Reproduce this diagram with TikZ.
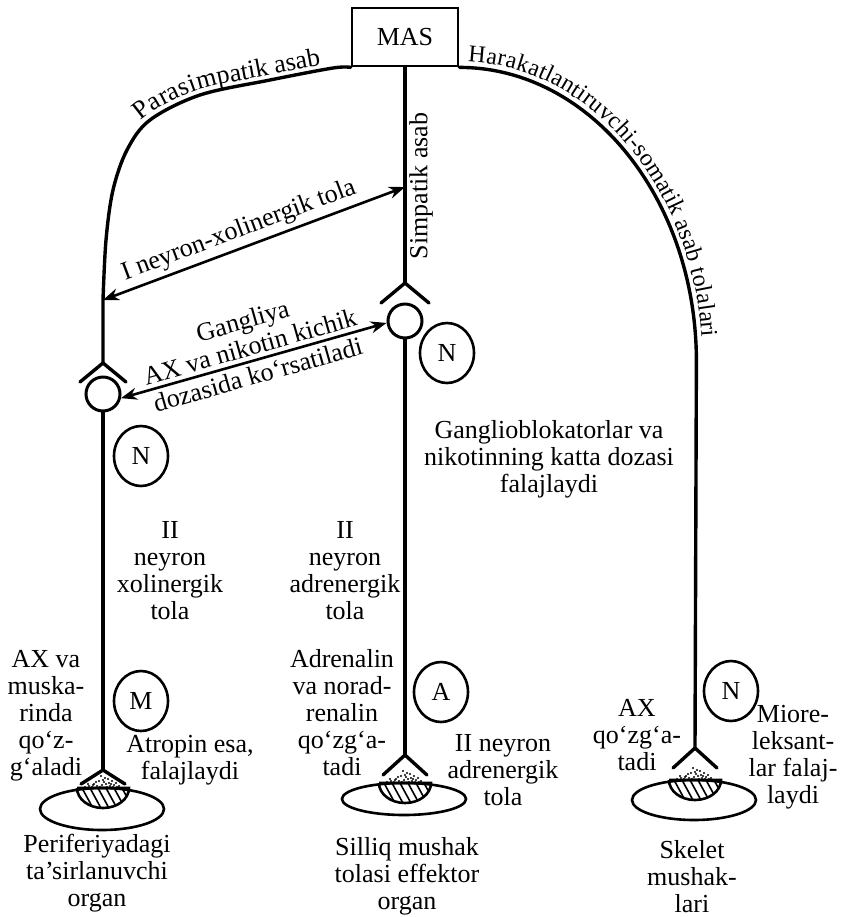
\documentclass[tikz,border=0pt]{standalone}
\usepackage{fontspec}
\setmainfont{Liberation Serif}
\usetikzlibrary{arrows.meta,shapes.geometric,decorations.text}

% one unit = one pixel of an 850 x 917 sheet, y running downwards
\tikzset{
  nerve/.style={line width=1.7pt, line cap=round, line join=miter},
  organline/.style={line width=1.3pt},
  lbl/.style={font=\fontsize{13}{13.5}\selectfont, align=center, inner sep=0pt},
  receptor/.style={draw, line width=1.3pt, ellipse, minimum width=27pt,
    minimum height=30pt, inner sep=0pt, font=\fontsize{13}{13.5}\selectfont},
  ganglion/.style={draw, line width=1.5pt, circle, minimum size=17pt, inner sep=0pt},
  biarrow/.style={line width=1.3pt,
    {Stealth[length=8pt,width=6pt]}-{Stealth[length=8pt,width=6pt]}},
  centrebox/.style={draw, line width=1.4pt, minimum width=53pt, minimum height=29pt,
    inner sep=0pt, font=\fontsize{13}{13.5}\selectfont}
}

% nerve ending on an effector organ:
% #1 apex x, #2 apex y, #3 drop of the cap, #4 organ centre y, #5 organ y radius
\newcommand{\synapsedraw}[5]{%
  \draw[nerve] (#1-22,#2+#3) -- (#1,#2) -- (#1+22,#2+#3);
  \foreach \dx/\dy in {-14/2,-9/4,-4/7,2/10,6/5,11/3,16/2,-1/3,4/1,-18/1,9/7,-6/2,
      13/5,-11/1,1/6,-2/12,7/2,-7/6,3/4,-3/1,10/1,-15/4,14/1,0/8,5/9,-10/3,8/4}
    \fill (#1+\dx,#4-#5-\dy) circle (0.6pt);
  \draw[organline] (#1-1,#4) ellipse [x radius=62, y radius=#5];
  \begin{scope}
    \clip (#1-26,#4-#5) -- (#1+26,#4-#5)
      arc[start angle=0, end angle=180, x radius=26, y radius=20] -- cycle;
    \foreach \k in {-40,-32,...,40}
      \draw[line width=0.8pt] (#1+\k-5,#4-#5) -- (#1+\k+7,#4-#5+22);
  \end{scope}
  \draw[organline] (#1-26,#4-#5) -- (#1+26,#4-#5)
    arc[start angle=0, end angle=180, x radius=26, y radius=20];
}

\begin{document}
\begin{tikzpicture}[x=0.5pt, y=-0.5pt]
\fill[white] (0,0) rectangle (850,917);
\useasboundingbox (0,0) rectangle (850,917);

% central nervous system
\node[centrebox] (mas) at (405,37) {MAS};

% key points of the three pathways
\coordinate (pl) at (103,300);
\coordinate (gl) at (103,363);
\coordinate (sl) at (103,770);
\coordinate (gm) at (405,283);
\coordinate (ps) at (405,187);
\coordinate (sm) at (405,755);
\coordinate (sr) at (695,748);

% ganglia
\node[ganglion] (lg) at (103,394) {};
\node[ganglion] (mg) at (405,321) {};

% parasympathetic pathway
\draw[nerve] plot[smooth, tension=0.55] coordinates {(mas.south west) (333,68) (270,80)
  (200,95) (150,120) (127,150) (113,190) (106,240) (pl)} -- (gl);
\draw[nerve] (80,382) -- (gl) -- (126,382);
\draw[nerve] (lg.south) -- (sl);

% sympathetic pathway
\draw[nerve] (mas.south) -- (gm);
\draw[nerve] (381,303) -- (gm) -- (429,303);
\draw[nerve] (mg.south) -- (sm);

% somatic motor pathway
\draw[nerve] (mas.south east) arc[start angle=-90, end angle=0, x radius=237, y radius=294]
  -- (sr);

% labels running along the curved nerves
\path[decorate, decoration={text along path, raise=2.5pt, text align=center,
  text={|\fontsize{13}{13.5}\selectfont|Parasimpatik asab}}]
  plot[smooth, tension=0.55] coordinates {(127,150) (150,120) (200,95) (270,80) (333,68) (352,66)};
\path[decorate, decoration={text along path, raise=3pt, text align={left indent=4pt},
  text={|\fontsize{12}{13}\selectfont|Harakatlantiruvchi-somatik asab tolalari}}]
  (mas.south east) arc[start angle=-90, end angle=0, x radius=237, y radius=294]
  -- (695,500);
\node[lbl, rotate=90] (simp) at (421,186) {Simpatik asab};

% preganglionic fibre and the ganglion transmission
\draw[biarrow] (pl) -- (ps)
  node[lbl, sloped, above=2pt, pos=0.47] {I neyron-xolinergik tola};
\draw[biarrow] (lg.-13) -- (mg.186)
  node[lbl, sloped, above=2pt, midway] {Gangliya\\AX va nikotin kichik}
  node[lbl, sloped, below=2pt, midway] {dozasida ko‘rsatiladi};

% receptors
\node[receptor] (nl) at (141,456) {N};
\node[receptor] (nm) at (447,353) {N};
\node[receptor] (rm) at (141,701) {M};
\node[receptor] (ra) at (441,692) {A};
\node[receptor] (nr) at (731,691) {N};

% effector organs
\synapsedraw{103}{770}{14}{809}{21}
\synapsedraw{405}{755}{20}{799}{16}
\synapsedraw{695}{748}{20}{800}{20}

% texts
\node[lbl] (t1) at (170,571) {II\\neyron\\xolinergik\\tola};
\node[lbl] (t2) at (345,571) {II\\neyron\\adrenergik\\tola};
\node[lbl] (t3) at (549,459) {Ganglioblokatorlar va\\nikotinning katta dozasi\\falajlaydi};
\node[lbl] (t4) at (46,716) {AX va\\muska-\\rinda\\qo‘z-\\g‘aladi};
\node[lbl] (t5) at (190,760) {Atropin esa,\\falajlaydi};
\node[lbl] (t6) at (97,873) {Periferiyadagi\\ta’sirlanuvchi\\organ};
\node[lbl] (t7) at (342,713) {Adrenalin\\va norad-\\renalin\\qo‘zg‘a-\\tadi};
\node[lbl] (t8) at (503,770) {II neyron\\adrenergik\\tola};
\node[lbl] (t9) at (407,876) {Silliq mushak\\tolasi effektor\\organ};
\node[lbl] (t10) at (637,735) {AX\\qo‘zg‘a-\\tadi};
\node[lbl] (t11) at (793,757) {Miore-\\leksant-\\lar falaj-\\laydi};
\node[lbl] (t12) at (692,877) {Skelet\\mushak-\\lari};
\end{tikzpicture}
\end{document}
